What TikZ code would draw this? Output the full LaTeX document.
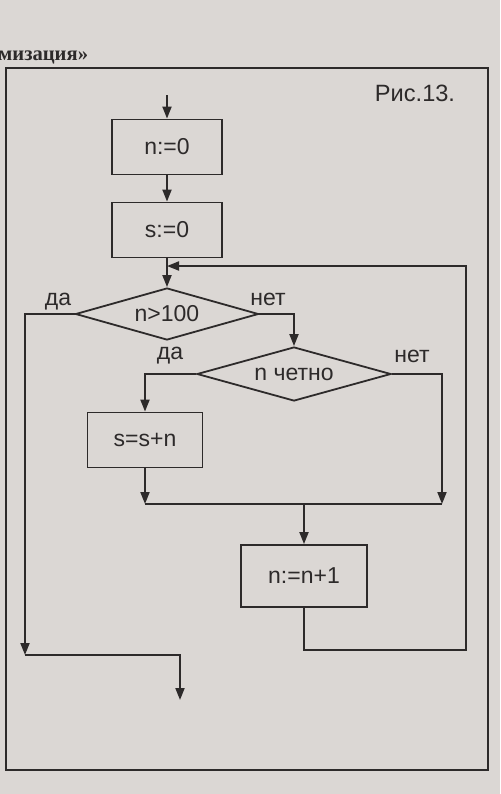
\documentclass[tikz,border=0pt]{standalone}
\usepackage{fontspec}
\setmainfont{Liberation Sans}
\newfontfamily\hdrfont{Liberation Serif}
\usetikzlibrary{shapes.geometric,arrows.meta}
\definecolor{paper}{RGB}{219,215,212}
\definecolor{ink}{RGB}{45,42,42}
\begin{document}
\begin{tikzpicture}[x=0.5pt,y=-0.5pt,
  blk/.style={draw=ink, line width=0.9pt, minimum width=55pt, minimum height=27.5pt, inner sep=0pt, text=ink, font=\fontsize{11.5}{13}\selectfont},
  cnd/.style={diamond, draw=ink, line width=0.9pt, aspect=3.5, inner sep=0pt, text=ink, font=\fontsize{11.5}{13}\selectfont},
  lbl/.style={text=ink, inner sep=0pt, font=\fontsize{11.5}{13}\selectfont},
  ln/.style={draw=ink, line width=0.9pt},
  arr/.style={ln, -{Triangle[length=6pt,width=4.5pt]}}]
\fill[paper] (0,0) rectangle (500,794);
\useasboundingbox (0,0) rectangle (500,794);
\draw[ln, line width=0.7pt] (6,68) rectangle (488,770);
\node[anchor=west, inner sep=0pt, text=ink, font=\hdrfont\bfseries\fontsize{10.3}{12}\selectfont] (hdr) at (-2,57) {мизация»};
\node[lbl, font=\fontsize{11.8}{14}\selectfont] (fig) at (415,93) {Рис.13.};
\node[blk] (blk0) at (167,147) {n:=0};
\node[blk] (blk1) at (167,230) {s:=0};
\node[cnd, minimum width=91.5pt, minimum height=26pt] (cnd0) at (167,314) {n>100};
\node[cnd, minimum width=97pt, minimum height=27pt] (cnd1) at (294,374) {n четно};
\node[blk, minimum width=57.5pt] (blk2) at (145,440) {s=s+n};
\node[blk, minimum width=63pt, minimum height=31pt] (blk3) at (304,576) {n:=n+1};
\node[lbl] (yes0) at (58,302) {да};
\node[lbl] (no0) at (268,299) {нет};
\node[lbl] (yes1) at (170,356) {да};
\node[lbl] (no1) at (412,356) {нет};
\coordinate (in0) at (167,95);
\coordinate (jn0) at (167,266);
\coordinate (lp0) at (466,650);
\coordinate (lp1) at (466,266);
\coordinate (ya0) at (25,655);
\coordinate (ex0) at (180,700);
\coordinate (mg0) at (145,504);
\coordinate (mg1) at (442,504);
\coordinate (mg2) at (304,504);
\draw[arr] (in0) -- (blk0);
\draw[arr] (blk0) -- (blk1);
\draw[arr] (blk1) -- (cnd0);
\draw[arr] (blk3.south) |- (lp0) -- (lp1) -- (jn0);
\draw[arr] (cnd0.west) -| (ya0);
\draw[arr] (ya0) -| (ex0);
\draw[arr] (cnd0.east) -| (cnd1.north);
\draw[arr] (cnd1.west) -| (blk2.north);
\draw[arr] (cnd1.east) -| (mg1);
\draw[arr] (blk2) -- (mg0);
\draw[ln] (mg0) -- (mg1);
\draw[arr] (mg2) -- (blk3);
\end{tikzpicture}
\end{document}
